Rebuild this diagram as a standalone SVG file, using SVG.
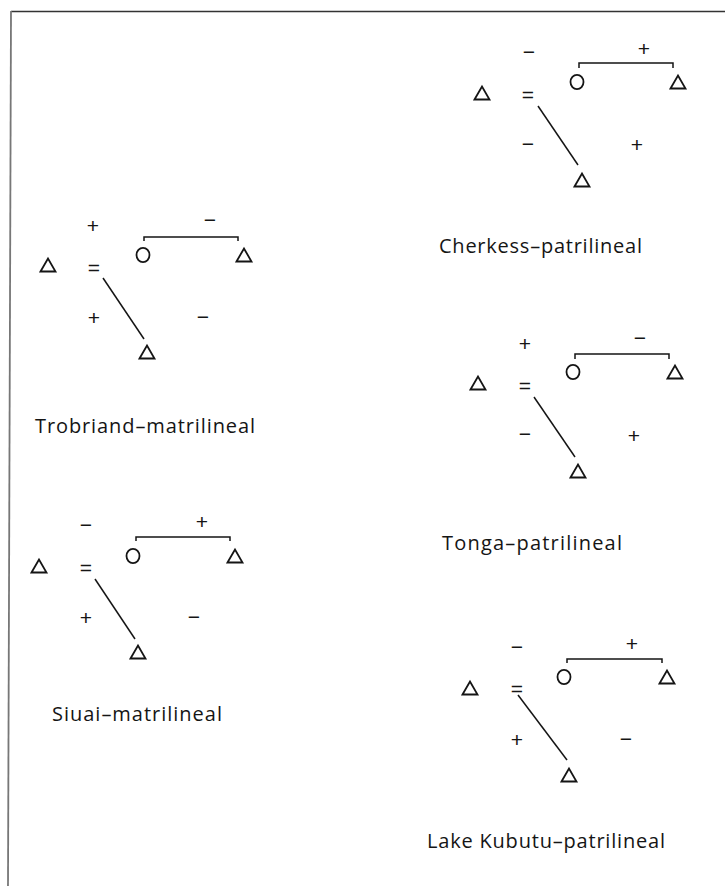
<svg xmlns="http://www.w3.org/2000/svg" xmlns:xlink="http://www.w3.org/1999/xlink" width="725" height="886" viewBox="0 0 725 886">
  <style>
    .frame { stroke: #333; stroke-width: 1.6; fill: none; }
    .frame-side { stroke: #777; stroke-width: 1.8; fill: none; }
    .male, .female { fill: none; stroke: #151515; stroke-width: 1.8; }
    .link { fill: none; stroke: #151515; stroke-width: 1.5; }
    .sign { font-family: "Liberation Sans", Arial, sans-serif; font-size: 21px; fill: #151515; text-anchor: middle; dominant-baseline: central; }
    .label { font-family: "Open Sans", "Noto Sans", sans-serif; font-size: 20px; fill: #151515; }
  </style>
  <defs>
    <!-- kinship symbols: triangle = man, circle = woman -->
    <polygon id="tri" points="-7.5,6.5 0,-6.5 7.5,6.5"/>
    <ellipse id="circ" cx="0" cy="0" rx="6.5" ry="7.2"/>
  </defs>

  <rect width="725" height="886" fill="#ffffff"/>

  <!-- frame (top and left edges) -->
  <line class="frame" x1="11" y1="11.5" x2="725" y2="11.5"/>
  <line class="frame-side" x1="11" y1="11" x2="8" y2="886"/>

  <!-- connectors: sibling brackets and descent lines -->
  <g id="connectors">
    <path class="link" d="M579,68 V63 H673 V68"/>
    <line class="link" x1="538" y1="106" x2="578" y2="165"/>

    <path class="link" d="M144,241 V237 H238 V241"/>
    <line class="link" x1="103" y1="278" x2="144" y2="339"/>

    <path class="link" d="M575,359 V354 H669 V359"/>
    <line class="link" x1="534" y1="397" x2="575" y2="457"/>

    <path class="link" d="M136,541 V537 H230 V541"/>
    <line class="link" x1="95" y1="579" x2="135" y2="639"/>

    <path class="link" d="M567,663 V659 H662 V663"/>
    <line class="link" x1="518" y1="695" x2="567" y2="760"/>
  </g>

  <!-- Cherkess -->
  <g id="cherkess">
    <g id="cherkess-husband"><use xlink:href="#tri" class="male" x="482" y="93"/></g>
    <g id="cherkess-wife"><use xlink:href="#circ" class="female" x="577" y="82"/></g>
    <g id="cherkess-brother"><use xlink:href="#tri" class="male" x="678" y="82"/></g>
    <g id="cherkess-son"><use xlink:href="#tri" class="male" x="582" y="180"/></g>
    <text class="sign" x="528" y="94">=</text>
    <text class="sign" x="529" y="51">−</text>
    <text class="sign" x="644" y="48">+</text>
    <text class="sign" x="528" y="143">−</text>
    <text class="sign" x="637" y="144">+</text>
    <text class="label" x="439" y="253" textLength="203" lengthAdjust="spacing">Cherkess–patrilineal</text>
  </g>

  <!-- Trobriand -->
  <g id="trobriand">
    <g id="trobriand-husband"><use xlink:href="#tri" class="male" x="48" y="265"/></g>
    <g id="trobriand-wife"><use xlink:href="#circ" class="female" x="143" y="255"/></g>
    <g id="trobriand-brother"><use xlink:href="#tri" class="male" x="244" y="255"/></g>
    <g id="trobriand-son"><use xlink:href="#tri" class="male" x="147" y="352"/></g>
    <text class="sign" x="94" y="267">=</text>
    <text class="sign" x="93" y="225">+</text>
    <text class="sign" x="210" y="219">−</text>
    <text class="sign" x="94" y="317">+</text>
    <text class="sign" x="203" y="316">−</text>
    <text class="label" x="35" y="433" textLength="220" lengthAdjust="spacing">Trobriand–matrilineal</text>
  </g>

  <!-- Tonga -->
  <g id="tonga">
    <g id="tonga-husband"><use xlink:href="#tri" class="male" x="478" y="383"/></g>
    <g id="tonga-wife"><use xlink:href="#circ" class="female" x="573" y="372"/></g>
    <g id="tonga-brother"><use xlink:href="#tri" class="male" x="675" y="372"/></g>
    <g id="tonga-son"><use xlink:href="#tri" class="male" x="578" y="471"/></g>
    <text class="sign" x="525" y="385">=</text>
    <text class="sign" x="525" y="343">+</text>
    <text class="sign" x="640" y="337">−</text>
    <text class="sign" x="525" y="433">−</text>
    <text class="sign" x="634" y="435">+</text>
    <text class="label" x="442" y="550" textLength="180" lengthAdjust="spacing">Tonga–patrilineal</text>
  </g>

  <!-- Siuai -->
  <g id="siuai">
    <g id="siuai-husband"><use xlink:href="#tri" class="male" x="39" y="566"/></g>
    <g id="siuai-wife"><use xlink:href="#circ" class="female" x="133" y="556"/></g>
    <g id="siuai-brother"><use xlink:href="#tri" class="male" x="235" y="556"/></g>
    <g id="siuai-son"><use xlink:href="#tri" class="male" x="138" y="652"/></g>
    <text class="sign" x="86" y="567">=</text>
    <text class="sign" x="86" y="524">−</text>
    <text class="sign" x="202" y="521">+</text>
    <text class="sign" x="86" y="617">+</text>
    <text class="sign" x="194" y="616">−</text>
    <text class="label" x="52" y="721" textLength="170" lengthAdjust="spacing">Siuai–matrilineal</text>
  </g>

  <!-- Lake Kubutu -->
  <g id="lake-kubutu">
    <g id="lake-kubutu-husband"><use xlink:href="#tri" class="male" x="470" y="688"/></g>
    <g id="lake-kubutu-wife"><use xlink:href="#circ" class="female" x="564" y="677"/></g>
    <g id="lake-kubutu-brother"><use xlink:href="#tri" class="male" x="667" y="677"/></g>
    <g id="lake-kubutu-son"><use xlink:href="#tri" class="male" x="569" y="775"/></g>
    <text class="sign" x="517" y="688">=</text>
    <text class="sign" x="517" y="646">−</text>
    <text class="sign" x="632" y="643">+</text>
    <text class="sign" x="517" y="739">+</text>
    <text class="sign" x="626" y="738">−</text>
    <text class="label" x="427" y="848" textLength="238" lengthAdjust="spacing">Lake Kubutu–patrilineal</text>
  </g>
</svg>
